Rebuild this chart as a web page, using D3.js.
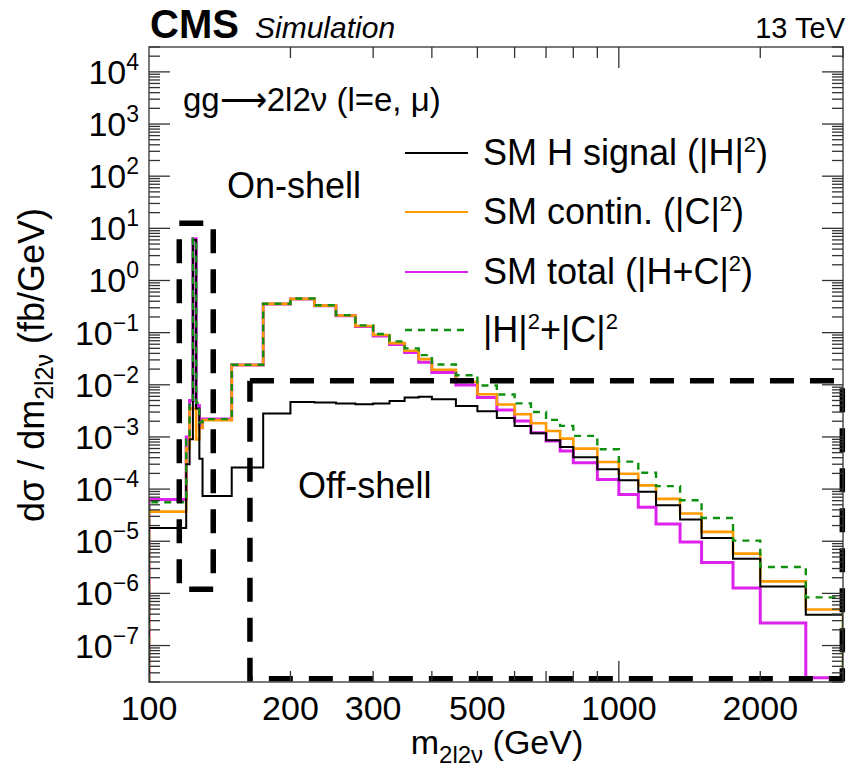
<!DOCTYPE html>
<html>
<head>
<meta charset="utf-8">
<script src="https://cdn.jsdelivr.net/npm/d3@7"></script>
<style>
body { margin: 0; background: #fff; }
text { font-family: "Liberation Sans", Arial, sans-serif; fill: #000; }
</style>
</head>
<body>
<svg width="851" height="769"></svg>
<script>
// bin edges of the m(2l2nu) histograms, GeV
var binEdges = [100, 120, 122, 124, 126, 128, 130, 150, 175, 200, 225, 250, 275, 300, 325, 350, 375, 400,
    450, 500, 550, 600, 650, 700, 750, 800, 900, 1000, 1100, 1200, 1350, 1500, 1750, 2000, 2500, 3000];

// dsigma/dm per bin, fb/GeV
var hSignal = [1.8e-5, 3.0e-4, 9e-4, 6.0, 3.5e-3, 3.8e-4, 7.4e-5, 2.6e-4, 2.8e-3, 4.7e-3, 4.6e-3, 4.4e-3,
    4.25e-3, 4.4e-3, 4.9e-3, 5.7e-3, 5.9e-3, 5.3e-3, 3.9e-3, 3.1e-3, 2.3e-3, 1.63e-3, 1.18e-3, 8.6e-4,
    6.4e-4, 4.1e-4, 2.39e-4, 1.47e-4, 8.9e-5, 4.9e-5, 2.61e-5, 1.16e-5, 4.6e-6, 1.36e-6, 3.9e-7];
var contin = [3.7e-5, 6e-4, 3.5e-3, 3.5e-3, 9e-4, 1.5e-3, 2.1e-3, 0.024, 0.356, 0.445, 0.33, 0.213, 0.134,
    0.09, 0.063, 0.045, 0.031, 0.0194, 0.0114, 6.6e-3, 4.2e-3, 2.73e-3, 1.83e-3, 1.30e-3, 9.3e-4, 5.97e-4,
    3.30e-4, 1.97e-4, 1.18e-4, 6.5e-5, 3.4e-5, 1.51e-5, 5.8e-6, 1.70e-6, 4.9e-7];
var smTotal = [6.3e-5, 1.0e-3, 5e-3, 6.3, 4e-3, 1.5e-3, 2.2e-3, 0.024, 0.356, 0.444, 0.329, 0.211, 0.131,
    0.086, 0.0595, 0.0415, 0.027, 0.0172, 0.0099, 5.7e-3, 3.3e-3, 2.03e-3, 1.21e-3, 8.4e-4, 5.4e-4, 3.2e-4,
    1.53e-4, 7.9e-5, 4.5e-5, 2.15e-5, 9.7e-6, 3.9e-6, 1.27e-6, 2.7e-7, 2.4e-8];
var hPlusC = [5.6e-5, 9e-4, 4.5e-3, 6.3, 4.5e-3, 1.9e-3, 2.2e-3, 0.0243, 0.359, 0.450, 0.335, 0.217, 0.138,
    0.094, 0.068, 0.050, 0.037, 0.0245, 0.0152, 9.7e-3, 6.5e-3, 4.4e-3, 3.0e-3, 2.12e-3, 1.63e-3, 1.05e-3,
    5.8e-4, 3.36e-4, 2.06e-4, 1.14e-4, 6.1e-5, 2.8e-5, 1.03e-5, 3.2e-6, 8.4e-7];

var xTickLabels = [100, 200, 300, 500, 1000, 2000];
var yDecades = [-7, -6, -5, -4, -3, -2, -1, 0, 1, 2, 3, 4];

// dashed regions [mLow, mHigh, yLow, yHigh]
var onShellBox = [116, 137, 1.2e-6, 12.5];
var offShellBox = [164, 2990, 2.3e-8, 0.012];

var legendNames = ["SM H signal (|H|", "SM contin. (|C|", "SM total (|H+C|", "|H|"];

var svg = d3.select("svg"),
    width = +svg.attr("width"),
    height = +svg.attr("height");

var x = d3.scaleLog().domain([100, 3000]).range([149, 843]);
var y = d3.scaleLog().domain([2e-8, 3e4]).range([682, 47]);

var plotL = x.range()[0], plotR = x.range()[1], plotT = y.range()[1], plotB = y.range()[0];

svg.append("defs").append("clipPath").attr("id", "frame")
    .append("rect")
    .attr("x", plotL).attr("y", plotT)
    .attr("width", plotR - plotL).attr("height", plotB - plotT);

var plot = svg.append("g").attr("clip-path", "url(#frame)");

function histPoints(vals) {
    var pts = [[binEdges[0], y.domain()[0]]];
    vals.forEach(function(v, i) {
        pts.push([binEdges[i], v]);
        pts.push([binEdges[i + 1], v]);
    });
    pts.push([binEdges[binEdges.length - 1], y.domain()[0]]);
    return pts;
}

var line = d3.line()
    .x(function(d) { return x(d[0]); })
    .y(function(d) { return y(d[1]); });

var series = [
    { vals: smTotal, color: "#dd22ee", w: 3, dash: null },
    { vals: contin, color: "#ff9900", w: 2.6, dash: null },
    { vals: hSignal, color: "#000", w: 2, dash: null },
    { vals: hPlusC, color: "#109010", w: 2.4, dash: "7,6" }
];

plot.selectAll(".hist").data(series)
    .enter().append("path")
    .attr("class", "hist")
    .attr("d", function(d) { return line(histPoints(d.vals)); })
    .attr("fill", "none")
    .attr("stroke", function(d) { return d.color; })
    .attr("stroke-width", function(d) { return d.w; })
    .attr("stroke-dasharray", function(d) { return d.dash; });

// dashed boxes, drawn clockwise from the top-left corner
function boxPath(b) {
    var pts = [[b[0], b[3]], [b[1], b[3]], [b[1], b[2]], [b[0], b[2]], [b[0], b[3]]];
    return line(pts);
}

svg.selectAll(".box").data([onShellBox, offShellBox])
    .enter().append("path")
    .attr("class", "box")
    .attr("d", boxPath)
    .attr("fill", "none")
    .attr("stroke", "#000")
    .attr("stroke-width", 5.5)
    .attr("stroke-dasharray", "24,16");

// axes: ROOT style ticks on all four sides, pointing inwards
var yMinor = [];
for (var e = -8; e <= 4; e++) {
    for (var k = 2; k <= 9; k++) {
        var v = k * Math.pow(10, e);
        if (v >= y.domain()[0] && v <= y.domain()[1]) yMinor.push(v);
    }
}
var yMajor = yDecades.map(function(p) { return Math.pow(10, p); });

var xMinor = [];
[100, 1000].forEach(function(dec) {
    for (var k = 2; k <= 9; k++) {
        var v = k * dec;
        if (v <= x.domain()[1]) xMinor.push(v);
    }
});
var xMajor = [1000];

var axisColor = "#333";
var ax = svg.append("g").attr("stroke", axisColor).attr("stroke-width", 1.3);

function hTicks(vals, len) {
    ax.selectAll(null).data(vals).enter().append("line")
        .attr("x1", plotL).attr("x2", plotL + len)
        .attr("y1", function(d) { return y(d); }).attr("y2", function(d) { return y(d); });
    ax.selectAll(null).data(vals).enter().append("line")
        .attr("x1", plotR).attr("x2", plotR - len)
        .attr("y1", function(d) { return y(d); }).attr("y2", function(d) { return y(d); });
}
function vTicks(vals, len) {
    ax.selectAll(null).data(vals).enter().append("line")
        .attr("y1", plotB).attr("y2", plotB - len)
        .attr("x1", function(d) { return x(d); }).attr("x2", function(d) { return x(d); });
    ax.selectAll(null).data(vals).enter().append("line")
        .attr("y1", plotT).attr("y2", plotT + len)
        .attr("x1", function(d) { return x(d); }).attr("x2", function(d) { return x(d); });
}
hTicks(yMinor, 11);
hTicks(yMajor, 21);
vTicks(xMinor, 11);
vTicks(xMajor, 21);

ax.append("rect")
    .attr("x", plotL).attr("y", plotT)
    .attr("width", plotR - plotL).attr("height", plotB - plotT)
    .attr("fill", "none");

// y tick labels 10^n
var yLab = svg.selectAll(".ylab").data(yDecades)
    .enter().append("text")
    .attr("class", "ylab")
    .attr("text-anchor", "end")
    .attr("x", 139)
    .attr("y", function(d) { return y(Math.pow(10, d)) + 12; })
    .style("font-size", "34px");
yLab.append("tspan").text("10");
yLab.append("tspan")
    .attr("dy", -14)
    .style("font-size", "23px")
    .text(function(d) { return d < 0 ? "\u2212" + (-d) : d; });

// x tick labels
svg.selectAll(".xlab").data(xTickLabels)
    .enter().append("text")
    .attr("class", "xlab")
    .attr("text-anchor", "middle")
    .attr("x", function(d) { return x(d); })
    .attr("y", 720)
    .style("font-size", "34px")
    .text(function(d) { return d; });

// axis titles
var xt = svg.append("text")
    .attr("text-anchor", "middle")
    .attr("x", 497).attr("y", 754)
    .style("font-size", "34px");
xt.append("tspan").text("m");
xt.append("tspan").attr("dy", 9).style("font-size", "24px").text("2l2\u03bd");
xt.append("tspan").attr("dy", -9).text(" (GeV)");

var yt = svg.append("text")
    .attr("text-anchor", "middle")
    .attr("transform", "translate(44,365) rotate(-90)")
    .style("font-size", "36px");
yt.append("tspan").text("d\u03c3 / dm");
yt.append("tspan").attr("dy", 9).style("font-size", "25px").text("2l2\u03bd");
yt.append("tspan").attr("dy", -9).text(" (fb/GeV)");

// header
svg.append("text").attr("x", 150).attr("y", 38)
    .style("font-size", "40px").style("font-weight", "bold").text("CMS");
svg.append("text").attr("x", 255).attr("y", 38)
    .style("font-size", "30px").style("font-style", "italic").text("Simulation");
svg.append("text").attr("x", 845).attr("y", 38).attr("text-anchor", "end")
    .style("font-size", "29px").text("13 TeV");

// process label
var proc = svg.append("text").attr("x", 183).attr("y", 111)
    .style("font-size", "33px");
proc.append("tspan").text("gg");
proc.append("tspan").text("\u27f6");
proc.append("tspan").text("2l2\u03bd (l=e, \u03bc)");

// region labels
svg.append("text").attr("x", 227).attr("y", 198)
    .style("font-size", "36px").text("On-shell");
svg.append("text").attr("x", 298).attr("y", 498)
    .style("font-size", "36px").text("Off-shell");

// legend
var legRows = [153, 212, 272, 330];
var legStyle = [series[2], series[1], series[0], series[3]];
var leg = svg.selectAll(".leg").data(legendNames)
    .enter().append("g")
    .attr("class", "leg")
    .attr("transform", function(d, i) { return "translate(0," + legRows[i] + ")"; });
leg.append("line")
    .attr("x1", 405).attr("x2", 468)
    .attr("stroke", function(d, i) { return legStyle[i].color; })
    .attr("stroke-width", function(d, i) { return i == 3 ? 2.4 : 2; })
    .attr("stroke-dasharray", function(d, i) { return legStyle[i].dash; });
var legText = leg.append("text")
    .attr("x", 483).attr("y", 12)
    .style("font-size", "36px");
legText.append("tspan").text(function(d) { return d; });
legText.append("tspan").attr("dy", -13).style("font-size", "22px").text("2");
legText.append("tspan").attr("dy", 13).text(function(d, i) { return i == 3 ? "+|C|" : ")"; });
legText.filter(function(d, i) { return i == 3; })
    .append("tspan").attr("dy", -13).style("font-size", "22px").text("2");
</script>
</body>
</html>
